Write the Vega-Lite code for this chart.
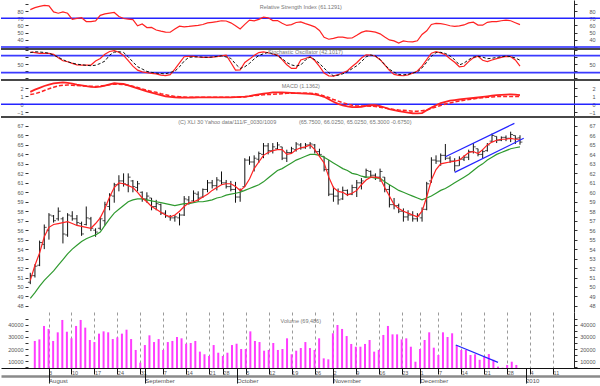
{
"$schema": "https://vega.github.io/schema/vega-lite/v6.json",
"padding": 0,
"background": "white",
"spacing": 0,
"bounds": "flush",
"config": {
  "view": {"stroke": null},
  "axis": {"labelFont": "Liberation Sans", "labelFontSize": 5.5, "labelColor": "#555", "tickColor": "#333", "tickWidth": 1, "domainColor": "#222", "labelOverlap": false, "labelFlush": false, "labelBound": false},
  "text": {"font": "Liberation Sans"}
},
"datasets": {
  "d": [
{"i":0,"o":50.5,"h":51.5,"l":50.3,"c":51.2,"v":26700,"r":50.7,"g":48.8,"rsi":82,"k":93,"d":91,"m":1.55,"s":1.22},
{"i":1,"o":51.2,"h":52.4,"l":51.0,"c":52.2,"v":28000,"r":52.3,"g":49.4,"rsi":84.7,"k":91,"d":94,"m":1.83,"s":1.32},
{"i":2,"o":52.3,"h":54.9,"l":52.2,"c":54.7,"v":39200,"r":53.6,"g":50.1,"rsi":86.5,"k":88,"d":93,"m":2.06,"s":1.5},
{"i":3,"o":54.5,"h":56.6,"l":54.0,"c":56.3,"v":36700,"r":55.3,"g":50.7,"rsi":88,"k":88,"d":91.5,"m":2.29,"s":1.72},
{"i":4,"o":56.0,"h":57.8,"l":55.0,"c":57.6,"v":26700,"r":56.3,"g":51.2,"rsi":87.2,"k":88,"d":88.7,"m":2.46,"s":1.94},
{"i":5,"o":57.5,"h":57.6,"l":56.8,"c":57.0,"v":33900,"r":56.6,"g":51.7,"rsi":78.8,"k":85,"d":82,"m":2.61,"s":2.13},
{"i":6,"o":57.2,"h":58.4,"l":57.0,"c":58.0,"v":44200,"r":56.7,"g":52.3,"rsi":77,"k":73,"d":75,"m":2.68,"s":2.3},
{"i":7,"o":57.2,"h":57.4,"l":54.6,"c":55.6,"v":34400,"r":56.8,"g":52.9,"rsi":78.8,"k":62,"d":66,"m":2.74,"s":2.37},
{"i":8,"o":55.5,"h":57.8,"l":55.3,"c":57.6,"v":28900,"r":56.9,"g":53.5,"rsi":76.9,"k":58.8,"d":58.8,"m":2.68,"s":2.42},
{"i":9,"o":57.5,"h":58.0,"l":57.0,"c":57.2,"v":39200,"r":56.7,"g":54.0,"rsi":68.5,"k":53,"d":54,"m":2.58,"s":2.38},
{"i":10,"o":57.2,"h":57.6,"l":56.5,"c":56.8,"v":44200,"r":56.5,"g":54.4,"rsi":69.8,"k":47.5,"d":50,"m":2.46,"s":2.34},
{"i":11,"o":56.7,"h":56.9,"l":55.4,"c":55.6,"v":37800,"r":56.4,"g":54.8,"rsi":70.7,"k":47,"d":48,"m":2.36,"s":2.31},
{"i":12,"o":56.6,"h":58.5,"l":56.5,"c":57.3,"v":27500,"r":56.3,"g":55.1,"rsi":65.4,"k":47,"d":46,"m":2.26,"s":2.29},
{"i":13,"o":57.2,"h":57.4,"l":55.9,"c":56.2,"v":25800,"r":56.2,"g":55.3,"rsi":65.4,"k":47,"d":44.7,"m":2.18,"s":2.26},
{"i":14,"o":56.0,"h":56.2,"l":55.3,"c":55.8,"v":32800,"r":56.7,"g":55.5,"rsi":66.3,"k":61,"d":46.4,"m":2.16,"s":2.22},
{"i":15,"o":56.2,"h":57.4,"l":56.0,"c":57.2,"v":34700,"r":57.3,"g":55.8,"rsi":74,"k":70,"d":52.5,"m":2.22,"s":2.28},
{"i":16,"o":57.0,"h":59.0,"l":56.5,"c":58.7,"v":33900,"r":58.3,"g":56.5,"rsi":76,"k":85,"d":61,"m":2.33,"s":2.36},
{"i":17,"o":58.5,"h":59.9,"l":58.1,"c":59.7,"v":28300,"r":59.5,"g":57.2,"rsi":77.2,"k":95,"d":82,"m":2.48,"s":2.45},
{"i":18,"o":59.6,"h":61.0,"l":58.9,"c":60.8,"v":29700,"r":60.5,"g":57.8,"rsi":78,"k":97.6,"d":92.5,"m":2.63,"s":2.52},
{"i":19,"o":60.8,"h":61.8,"l":60.1,"c":61.2,"v":32800,"r":61.0,"g":58.2,"rsi":72.5,"k":92.5,"d":94,"m":2.59,"s":2.52},
{"i":20,"o":61.2,"h":62.0,"l":60.6,"c":60.9,"v":36100,"r":60.9,"g":58.6,"rsi":69.6,"k":81,"d":91.5,"m":2.54,"s":2.46},
{"i":21,"o":60.8,"h":62.0,"l":60.0,"c":61.6,"v":28300,"r":60.7,"g":59.0,"rsi":68.9,"k":63,"d":76,"m":2.36,"s":2.38},
{"i":22,"o":61.2,"h":61.3,"l":60.0,"c":60.6,"v":19200,"r":60.5,"g":59.2,"rsi":68.2,"k":43,"d":58,"m":2.17,"s":2.25},
{"i":23,"o":60.5,"h":61.2,"l":60.1,"c":60.9,"v":8600,"r":60.0,"g":59.3,"rsi":59.4,"k":29,"d":41.2,"m":2.0,"s":2.12},
{"i":24,"o":60.0,"h":60.1,"l":59.0,"c":59.3,"v":23300,"r":59.4,"g":59.3,"rsi":62,"k":22.7,"d":33,"m":1.8,"s":1.93},
{"i":25,"o":59.3,"h":60.0,"l":58.9,"c":59.6,"v":31400,"r":59.0,"g":59.2,"rsi":57,"k":20,"d":24.5,"m":1.62,"s":1.75},
{"i":26,"o":59.4,"h":59.4,"l":58.1,"c":58.5,"v":25800,"r":58.5,"g":59.1,"rsi":57.2,"k":17.7,"d":21,"m":1.47,"s":1.6},
{"i":27,"o":58.5,"h":59.2,"l":58.1,"c":58.8,"v":28300,"r":58.2,"g":59.0,"rsi":53.6,"k":16,"d":18.4,"m":1.3,"s":1.5},
{"i":28,"o":58.7,"h":58.8,"l":57.6,"c":57.8,"v":19200,"r":57.9,"g":58.9,"rsi":52,"k":11.5,"d":16.8,"m":1.15,"s":1.32},
{"i":29,"o":57.8,"h":58.1,"l":57.3,"c":57.5,"v":25800,"r":57.6,"g":58.8,"rsi":50.6,"k":9.7,"d":15.9,"m":1.0,"s":1.2},
{"i":30,"o":57.4,"h":57.6,"l":57.0,"c":57.3,"v":26700,"r":57.4,"g":58.7,"rsi":50.5,"k":13,"d":21,"m":0.93,"s":1.08},
{"i":31,"o":57.3,"h":57.6,"l":56.9,"c":57.4,"v":30000,"r":57.6,"g":58.6,"rsi":55,"k":33,"d":25,"m":0.87,"s":0.99},
{"i":32,"o":57.3,"h":57.8,"l":56.5,"c":57.6,"v":28900,"r":58.0,"g":58.7,"rsi":59,"k":55,"d":41,"m":0.85,"s":0.94},
{"i":33,"o":57.6,"h":59.6,"l":57.5,"c":59.3,"v":24400,"r":58.5,"g":58.8,"rsi":58,"k":76.5,"d":61,"m":0.84,"s":0.91},
{"i":34,"o":59.2,"h":59.6,"l":58.7,"c":58.9,"v":25000,"r":58.9,"g":58.8,"rsi":58.6,"k":78,"d":74.5,"m":0.84,"s":0.88},
{"i":35,"o":59.1,"h":60.2,"l":59.0,"c":59.9,"v":26700,"r":59.0,"g":58.9,"rsi":59.5,"k":77.5,"d":75.5,"m":0.85,"s":0.875},
{"i":36,"o":59.8,"h":60.1,"l":59.0,"c":59.4,"v":17800,"r":59.2,"g":59.0,"rsi":60,"k":75.4,"d":76,"m":0.87,"s":0.875},
{"i":37,"o":59.5,"h":60.4,"l":59.4,"c":60.3,"v":15600,"r":59.5,"g":59.0,"rsi":61.3,"k":74,"d":75,"m":0.875,"s":0.875},
{"i":38,"o":60.3,"h":61.3,"l":60.0,"c":61.0,"v":14200,"r":59.8,"g":59.1,"rsi":63.5,"k":74,"d":74.3,"m":0.875,"s":0.875},
{"i":39,"o":61.0,"h":61.3,"l":60.4,"c":60.7,"v":23300,"r":60.2,"g":59.2,"rsi":64.3,"k":75,"d":75.5,"m":0.875,"s":0.875},
{"i":40,"o":60.7,"h":61.6,"l":60.2,"c":61.3,"v":16900,"r":60.5,"g":59.4,"rsi":65.2,"k":76.8,"d":77.5,"m":0.875,"s":0.875},
{"i":41,"o":61.2,"h":62.2,"l":60.8,"c":61.0,"v":14200,"r":60.8,"g":59.5,"rsi":66.5,"k":79.5,"d":79.5,"m":0.875,"s":0.875},
{"i":42,"o":61.0,"h":61.3,"l":60.4,"c":60.6,"v":16900,"r":60.9,"g":59.7,"rsi":66.2,"k":81.7,"d":75.5,"m":0.875,"s":0.875},
{"i":43,"o":60.6,"h":61.2,"l":60.1,"c":60.3,"v":23300,"r":60.9,"g":59.8,"rsi":63.6,"k":56,"d":70.6,"m":0.875,"s":0.875},
{"i":44,"o":60.3,"h":61.1,"l":58.9,"c":59.5,"v":24400,"r":60.6,"g":59.9,"rsi":59.7,"k":29,"d":51,"m":0.9,"s":0.875},
{"i":45,"o":59.5,"h":60.4,"l":59.0,"c":60.2,"v":20000,"r":60.2,"g":60.0,"rsi":55,"k":30,"d":35,"m":0.93,"s":0.875},
{"i":46,"o":60.6,"h":63.6,"l":60.6,"c":63.4,"v":20000,"r":60.6,"g":60.2,"rsi":61.5,"k":56,"d":41,"m":0.95,"s":0.92},
{"i":47,"o":63.4,"h":63.8,"l":62.9,"c":63.2,"v":34700,"r":61.4,"g":60.4,"rsi":67.5,"k":68,"d":52.9,"m":1.02,"s":1.0},
{"i":48,"o":63.2,"h":63.9,"l":62.2,"c":63.6,"v":26700,"r":62.5,"g":60.6,"rsi":66.3,"k":81,"d":68.5,"m":1.14,"s":1.07},
{"i":49,"o":63.5,"h":64.3,"l":63.1,"c":64.1,"v":25800,"r":63.2,"g":60.8,"rsi":68.4,"k":91,"d":80.5,"m":1.24,"s":1.14},
{"i":50,"o":64.0,"h":65.2,"l":63.6,"c":64.9,"v":18600,"r":63.9,"g":61.1,"rsi":71.5,"k":93.5,"d":87,"m":1.33,"s":1.19},
{"i":51,"o":64.9,"h":65.2,"l":64.0,"c":64.4,"v":19200,"r":64.2,"g":61.5,"rsi":70.6,"k":90.5,"d":91.5,"m":1.4,"s":1.22},
{"i":52,"o":64.4,"h":65.2,"l":64.1,"c":64.8,"v":25000,"r":64.4,"g":61.9,"rsi":66.8,"k":86,"d":86,"m":1.48,"s":1.25},
{"i":53,"o":64.6,"h":65.3,"l":64.5,"c":65.0,"v":19200,"r":64.5,"g":62.3,"rsi":66.8,"k":82,"d":80,"m":1.49,"s":1.29},
{"i":54,"o":64.8,"h":64.8,"l":63.4,"c":63.6,"v":20000,"r":64.5,"g":62.5,"rsi":63,"k":66,"d":70,"m":1.48,"s":1.33},
{"i":55,"o":63.6,"h":64.5,"l":63.2,"c":64.2,"v":28900,"r":64.0,"g":62.8,"rsi":60,"k":48,"d":56,"m":1.46,"s":1.37},
{"i":56,"o":64.2,"h":64.8,"l":64.1,"c":64.6,"v":15600,"r":64.1,"g":63.1,"rsi":61.2,"k":35.3,"d":47.5,"m":1.43,"s":1.375},
{"i":57,"o":64.5,"h":65.3,"l":64.3,"c":65.1,"v":18600,"r":64.5,"g":63.4,"rsi":64.1,"k":35.5,"d":43.5,"m":1.4,"s":1.375},
{"i":58,"o":65.0,"h":65.2,"l":64.5,"c":64.7,"v":20800,"r":64.7,"g":63.6,"rsi":65,"k":64.7,"d":47,"m":1.375,"s":1.375},
{"i":59,"o":64.7,"h":65.2,"l":64.6,"c":65.0,"v":25800,"r":64.8,"g":63.8,"rsi":62.6,"k":70,"d":65,"m":1.35,"s":1.375},
{"i":60,"o":65.0,"h":65.3,"l":64.6,"c":65.1,"v":20800,"r":65.0,"g":64.0,"rsi":60.5,"k":76.3,"d":75.5,"m":1.31,"s":1.375},
{"i":61,"o":65.0,"h":65.1,"l":64.1,"c":64.3,"v":19200,"r":64.5,"g":64.0,"rsi":58,"k":63,"d":66,"m":1.25,"s":1.36},
{"i":62,"o":64.3,"h":64.6,"l":63.8,"c":64.0,"v":28900,"r":63.8,"g":63.9,"rsi":53,"k":42,"d":53,"m":1.1,"s":1.22},
{"i":63,"o":63.8,"h":63.8,"l":62.2,"c":62.4,"v":12200,"r":63.1,"g":63.7,"rsi":43.5,"k":18.5,"d":36,"m":0.94,"s":1.05},
{"i":64,"o":62.4,"h":63.4,"l":59.6,"c":59.8,"v":11400,"r":61.6,"g":63.4,"rsi":40.8,"k":9,"d":20,"m":0.64,"s":0.85},
{"i":65,"o":59.8,"h":60.6,"l":59.0,"c":59.6,"v":33100,"r":60.5,"g":63.1,"rsi":42,"k":8,"d":9,"m":0.31,"s":0.6},
{"i":66,"o":59.6,"h":60.4,"l":58.7,"c":59.2,"v":40000,"r":60.1,"g":62.8,"rsi":43.6,"k":13,"d":11,"m":0.06,"s":0.4},
{"i":67,"o":59.3,"h":60.6,"l":59.2,"c":60.2,"v":36700,"r":60.0,"g":62.5,"rsi":43.6,"k":20,"d":16,"m":-0.15,"s":0.2},
{"i":68,"o":60.2,"h":60.3,"l":59.6,"c":59.8,"v":30800,"r":59.7,"g":62.3,"rsi":42.3,"k":26.7,"d":23.5,"m":-0.27,"s":0.03},
{"i":69,"o":59.8,"h":60.8,"l":59.7,"c":60.5,"v":24200,"r":59.9,"g":62.0,"rsi":42.5,"k":41.7,"d":34,"m":-0.35,"s":-0.12},
{"i":70,"o":60.5,"h":61.3,"l":59.5,"c":61.0,"v":21900,"r":60.2,"g":61.9,"rsi":46.3,"k":55,"d":44.5,"m":-0.35,"s":-0.21},
{"i":71,"o":61.0,"h":61.5,"l":60.3,"c":61.2,"v":21900,"r":60.8,"g":61.7,"rsi":50.3,"k":72,"d":59,"m":-0.31,"s":-0.21},
{"i":72,"o":61.6,"h":62.5,"l":61.5,"c":62.3,"v":24200,"r":61.3,"g":61.6,"rsi":52.4,"k":83,"d":76,"m":-0.2,"s":-0.21},
{"i":73,"o":62.2,"h":62.3,"l":61.5,"c":61.8,"v":27500,"r":61.6,"g":61.6,"rsi":51.6,"k":82.4,"d":82.4,"m":-0.12,"s":-0.24},
{"i":74,"o":61.8,"h":62.0,"l":61.3,"c":61.6,"v":17800,"r":61.6,"g":61.5,"rsi":50.6,"k":78,"d":79,"m":-0.1,"s":-0.28},
{"i":75,"o":61.6,"h":62.5,"l":61.1,"c":62.2,"v":19200,"r":61.5,"g":61.5,"rsi":48.3,"k":66,"d":67,"m":-0.23,"s":-0.38},
{"i":76,"o":61.6,"h":61.6,"l":60.0,"c":60.3,"v":31700,"r":60.5,"g":61.1,"rsi":43.8,"k":48,"d":48.5,"m":-0.4,"s":-0.47},
{"i":77,"o":60.3,"h":60.8,"l":58.4,"c":58.7,"v":39200,"r":59.6,"g":60.8,"rsi":39.8,"k":28,"d":32,"m":-0.6,"s":-0.56},
{"i":78,"o":58.7,"h":59.4,"l":58.2,"c":58.6,"v":32200,"r":58.7,"g":60.5,"rsi":38.5,"k":14,"d":22,"m":-0.73,"s":-0.66},
{"i":79,"o":58.6,"h":58.8,"l":57.8,"c":58.0,"v":32200,"r":58.3,"g":60.2,"rsi":35.5,"k":10.6,"d":13.5,"m":-0.85,"s":-0.72},
{"i":80,"o":58.0,"h":58.3,"l":56.9,"c":57.4,"v":28000,"r":58.0,"g":60.0,"rsi":38.5,"k":9.2,"d":12.5,"m":-0.94,"s":-0.75},
{"i":81,"o":57.4,"h":58.1,"l":57.0,"c":57.6,"v":28900,"r":57.8,"g":59.8,"rsi":37.3,"k":12.5,"d":14.5,"m":-1.04,"s":-0.8},
{"i":82,"o":57.6,"h":58.0,"l":56.9,"c":57.2,"v":21900,"r":57.6,"g":59.6,"rsi":37.1,"k":18.3,"d":19,"m":-1.12,"s":-0.86},
{"i":83,"o":57.2,"h":57.8,"l":56.9,"c":57.5,"v":9400,"r":57.4,"g":59.4,"rsi":38.7,"k":26,"d":22.5,"m":-1.125,"s":-0.86},
{"i":84,"o":57.3,"h":58.4,"l":56.9,"c":58.2,"v":20000,"r":58.0,"g":59.2,"rsi":47.5,"k":43,"d":37,"m":-1.1,"s":-0.8},
{"i":85,"o":58.2,"h":61.1,"l":58.1,"c":60.9,"v":27500,"r":59.5,"g":59.4,"rsi":52.5,"k":66,"d":57,"m":-0.75,"s":-0.72},
{"i":86,"o":61.2,"h":63.7,"l":61.0,"c":63.4,"v":33900,"r":61.3,"g":59.6,"rsi":61.4,"k":89,"d":78,"m":-0.41,"s":-0.52},
{"i":87,"o":63.4,"h":63.9,"l":63.0,"c":63.3,"v":21100,"r":62.4,"g":59.9,"rsi":62.8,"k":94,"d":91,"m":-0.12,"s":-0.33},
{"i":88,"o":63.3,"h":64.1,"l":62.8,"c":63.9,"v":15000,"r":63.0,"g":60.2,"rsi":62.6,"k":90,"d":92,"m":0.14,"s":-0.15},
{"i":89,"o":63.9,"h":65.1,"l":63.4,"c":63.6,"v":33900,"r":63.1,"g":60.4,"rsi":61.3,"k":83.5,"d":88,"m":0.3,"s":0.03},
{"i":90,"o":63.6,"h":63.8,"l":63.1,"c":63.3,"v":30000,"r":63.2,"g":60.7,"rsi":59.6,"k":69,"d":79,"m":0.45,"s":0.15},
{"i":91,"o":63.3,"h":63.6,"l":62.2,"c":62.8,"v":33100,"r":63.3,"g":61.0,"rsi":58.8,"k":57,"d":66,"m":0.52,"s":0.28},
{"i":92,"o":62.8,"h":63.8,"l":62.8,"c":63.5,"v":23300,"r":63.4,"g":61.3,"rsi":59.3,"k":41,"d":47.5,"m":0.6,"s":0.4},
{"i":93,"o":63.5,"h":63.9,"l":63.3,"c":63.7,"v":19200,"r":63.8,"g":61.6,"rsi":60.7,"k":42.6,"d":54,"m":0.67,"s":0.5},
{"i":94,"o":63.7,"h":64.5,"l":63.4,"c":64.3,"v":19200,"r":64.2,"g":61.9,"rsi":63.5,"k":59,"d":66,"m":0.73,"s":0.6},
{"i":95,"o":64.3,"h":65.2,"l":64.1,"c":64.8,"v":15000,"r":64.3,"g":62.3,"rsi":64.6,"k":72.6,"d":75,"m":0.79,"s":0.66},
{"i":96,"o":64.6,"h":64.6,"l":63.8,"c":64.0,"v":15600,"r":64.1,"g":62.7,"rsi":60.5,"k":78,"d":78,"m":0.85,"s":0.76},
{"i":97,"o":64.0,"h":64.5,"l":63.6,"c":64.3,"v":11000,"r":64.5,"g":63.0,"rsi":60.3,"k":64,"d":75,"m":0.92,"s":0.82},
{"i":98,"o":64.4,"h":65.2,"l":64.3,"c":65.0,"v":13600,"r":65.0,"g":63.4,"rsi":64.3,"k":59.5,"d":69.5,"m":1.0,"s":0.875},
{"i":99,"o":65.4,"h":66.2,"l":65.3,"c":66.0,"v":15800,"r":65.3,"g":63.7,"rsi":65.4,"k":64.8,"d":71,"m":1.09,"s":0.92},
{"i":100,"o":65.9,"h":65.9,"l":65.2,"c":65.5,"v":11000,"r":65.5,"g":64.0,"rsi":65.4,"k":69.5,"d":74,"m":1.14,"s":0.96},
{"i":101,"o":65.5,"h":65.9,"l":65.4,"c":65.8,"v":5300,"r":65.6,"g":64.2,"rsi":66.5,"k":74.3,"d":76.5,"m":1.18,"s":0.96},
{"i":102,"o":65.8,"h":66.0,"l":65.4,"c":65.7,"v":4400,"r":65.6,"g":64.4,"rsi":67.3,"k":77.5,"d":78.5,"m":1.22,"s":0.96},
{"i":103,"o":65.7,"h":66.4,"l":65.3,"c":66.1,"v":6700,"r":65.7,"g":64.6,"rsi":66.5,"k":76.7,"d":77,"m":1.25,"s":0.96},
{"i":104,"o":66.0,"h":66.0,"l":65.1,"c":65.7,"v":9400,"r":65.6,"g":64.7,"rsi":63.8,"k":65,"d":72,"m":1.2,"s":0.96},
{"i":105,"o":65.75,"h":66.025,"l":65.025,"c":65.3,"v":6700,"r":65.6,"g":64.8,"rsi":61.1,"k":43,"d":64,"m":1.14,"s":0.96}
  ],
  "ch": [
    {"t":"up","i":89.0,"p":63.76},{"t":"up","i":103.8,"p":67.28},
    {"t":"lo","i":91.0,"p":62.1},{"t":"lo","i":105.8,"p":65.7}
  ],
  "vt": [{"i":91.8,"v":23300},{"i":101.0,"v":8900}]
},
"vconcat": [
 {
  "width": 600, "height": 49,
  "resolve": {"axis": {"y": "independent"}},
  "layer": [
   {"data": {"values": [{"y": 70}, {"y": 30}]},
    "mark": {"type": "rule", "color": "#2424ff", "strokeWidth": 1.5},
    "encoding": {"y": {"field": "y", "type": "quantitative", "scale": {"domain": [27.2, 95.4], "nice": false, "zero": false},
      "axis": {"orient": "right", "offset": -27, "title": null, "values": [30,40,50,60,70,80,90], "labelExpr": "datum.value >= 40 && datum.value <= 80 ? datum.label : ''", "tickSize": 3, "labelPadding": 18, "labelAlign": "right", "domain": true, "grid": false}}}},
   {"data": {"name": "d"},
    "mark": {"type": "line", "color": "#ff2222", "strokeWidth": 1.2},
    "encoding": {
      "x": {"field": "i", "type": "quantitative", "scale": {"domain": [-6.28, 122.37], "nice": false, "zero": false},
        "axis": {"title": null, "values": [3,8,13,18,23,28,33,38,41,46,51,56,61,65,70,75,80,84,88,93,98,103,108,113], "grid": true, "gridDash": [3,3], "gridColor": "#9a9a9a", "labels": false, "ticks": false, "domain": false}},
      "y": {"field": "rsi", "type": "quantitative", "scale": {"domain": [27.2, 95.4], "nice": false, "zero": false},
        "axis": {"orient": "left", "offset": -27, "title": null, "values": [30,40,50,60,70,80,90], "labelExpr": "datum.value >= 40 && datum.value <= 80 ? datum.label : ''", "tickSize": 3, "labelPadding": 2, "domain": false, "grid": false}}}},
   {"data": {"values": [{}]},
    "mark": {"type": "text", "fontSize": 5.5, "color": "#777"},
    "encoding": {"x": {"datum": 58, "type": "quantitative", "axis": null}, "y": {"datum": 86, "type": "quantitative", "axis": null}, "text": {"value": "Relative Strength Index (61.1291)"}}},
   {"data": {"values": [{}]},
    "mark": {"type": "rule", "color": "#474747", "strokeWidth": 2},
    "encoding": {"y": {"datum": 27.2, "type": "quantitative", "axis": null}}}
  ]
 },
 {
  "width": 600, "height": 31,
  "resolve": {"axis": {"y": "independent"}},
  "layer": [
   {"data": {"values": [{"y": 80}, {"y": 20}]},
    "mark": {"type": "rule", "color": "#3a3aff", "strokeWidth": 1.8},
    "encoding": {"y": {"field": "y", "type": "quantitative", "scale": {"domain": [-5.8, 103.7], "nice": false, "zero": false},
      "axis": {"orient": "right", "offset": -27, "title": null, "values": [0,25,50,75,100], "labelExpr": "datum.value == 50 ? datum.label : ''", "tickSize": 3, "labelPadding": 18, "labelAlign": "right", "domain": true, "grid": false}}}},
   {"data": {"name": "d"},
    "mark": {"type": "line", "color": "#ff2222", "strokeWidth": 1.2},
    "encoding": {
      "x": {"field": "i", "type": "quantitative", "scale": {"domain": [-6.28, 122.37], "nice": false, "zero": false},
        "axis": {"title": null, "values": [3,8,13,18,23,28,33,38,41,46,51,56,61,65,70,75,80,84,88,93,98,103,108,113], "grid": true, "gridDash": [3,3], "gridColor": "#9a9a9a", "labels": false, "ticks": false, "domain": false}},
      "y": {"field": "k", "type": "quantitative", "scale": {"domain": [-5.8, 103.7], "nice": false, "zero": false},
        "axis": {"orient": "left", "offset": -27, "title": null, "values": [0,25,50,75,100], "labelExpr": "datum.value == 50 ? datum.label : ''", "tickSize": 3, "labelPadding": 2, "domain": false, "grid": false}}}},
   {"data": {"name": "d"},
    "mark": {"type": "line", "color": "#111111", "strokeWidth": 1, "strokeDash": [3, 2]},
    "encoding": {"x": {"field": "i", "type": "quantitative", "axis": null}, "y": {"field": "d", "type": "quantitative", "axis": null}}},
   {"data": {"values": [{}]},
    "mark": {"type": "text", "fontSize": 5.5, "color": "#777"},
    "encoding": {"x": {"datum": 59, "type": "quantitative", "axis": null}, "y": {"datum": 92, "type": "quantitative", "axis": null}, "text": {"value": "Stochastic Oscillator (42.1017)"}}},
   {"data": {"values": [{}]},
    "mark": {"type": "rule", "color": "#474747", "strokeWidth": 2},
    "encoding": {"y": {"datum": -5.8, "type": "quantitative", "axis": null}}}
  ]
 },
 {
  "width": 600, "height": 37,
  "resolve": {"axis": {"y": "independent"}},
  "layer": [
   {"data": {"values": [{"y": 0}]},
    "mark": {"type": "rule", "color": "#2424ff", "strokeWidth": 1.5},
    "encoding": {"y": {"field": "y", "type": "quantitative", "scale": {"domain": [-1.59, 3.04], "nice": false, "zero": false},
      "axis": {"orient": "right", "offset": -27, "title": null, "values": [-1,0,1,2], "tickSize": 3, "labelPadding": 18, "labelAlign": "right", "domain": true, "grid": false}}}},
   {"data": {"name": "d"},
    "mark": {"type": "line", "color": "#ff2222", "strokeWidth": 1.8},
    "encoding": {
      "x": {"field": "i", "type": "quantitative", "scale": {"domain": [-6.28, 122.37], "nice": false, "zero": false},
        "axis": {"title": null, "values": [3,8,13,18,23,28,33,38,41,46,51,56,61,65,70,75,80,84,88,93,98,103,108,113], "grid": true, "gridDash": [3,3], "gridColor": "#9a9a9a", "labels": false, "ticks": false, "domain": false}},
      "y": {"field": "m", "type": "quantitative", "scale": {"domain": [-1.59, 3.04], "nice": false, "zero": false},
        "axis": {"orient": "left", "offset": -27, "title": null, "values": [-1,0,1,2], "tickSize": 3, "labelPadding": 2, "domain": false, "grid": false}}}},
   {"data": {"name": "d"},
    "mark": {"type": "line", "color": "#ff2222", "strokeWidth": 1.5, "strokeDash": [4, 2]},
    "encoding": {"x": {"field": "i", "type": "quantitative", "axis": null}, "y": {"field": "s", "type": "quantitative", "axis": null}}},
   {"data": {"values": [{}]},
    "mark": {"type": "text", "fontSize": 5.5, "color": "#777"},
    "encoding": {"x": {"datum": 58, "type": "quantitative", "axis": null}, "y": {"datum": 2.25, "type": "quantitative", "axis": null}, "text": {"value": "MACD (1.1362)"}}},
   {"data": {"values": [{}]},
    "mark": {"type": "rule", "color": "#474747", "strokeWidth": 2},
    "encoding": {"y": {"datum": -1.59, "type": "quantitative", "axis": null}}}
  ]
 },
 {
  "width": 600, "height": 195,
  "resolve": {"axis": {"y": "independent"}},
  "layer": [
   {"data": {"name": "d"},
    "mark": {"type": "rule", "color": "#111111", "strokeWidth": 1},
    "encoding": {
      "x": {"field": "i", "type": "quantitative", "scale": {"domain": [-6.28, 122.37], "nice": false, "zero": false},
        "axis": {"title": null, "values": [3,8,13,18,23,28,33,38,41,46,51,56,61,65,70,75,80,84,88,93,98,103,108,113], "grid": true, "gridDash": [3,3], "gridColor": "#9a9a9a", "labels": false, "ticks": false, "domain": false}},
      "y": {"field": "l", "type": "quantitative", "scale": {"domain": [47.36, 67.95], "nice": false, "zero": false},
        "axis": {"orient": "left", "offset": -27, "title": null, "values": [48,49,50,51,52,53,54,55,56,57,58,59,60,61,62,63,64,65,66,67], "tickSize": 3, "labelPadding": 2, "domain": false, "grid": false}},
      "y2": {"field": "h"}}},
   {"data": {"name": "d"},
    "mark": {"type": "tick", "orient": "horizontal", "size": 2.4, "thickness": 1, "xOffset": -1.2, "color": "#111111"},
    "encoding": {"x": {"field": "i", "type": "quantitative", "axis": null}, "y": {"field": "o", "type": "quantitative", "axis": null}}},
   {"data": {"name": "d"},
    "mark": {"type": "tick", "orient": "horizontal", "size": 2.4, "thickness": 1, "xOffset": 1.2, "color": "#111111"},
    "encoding": {"x": {"field": "i", "type": "quantitative", "axis": null}, "y": {"field": "c", "type": "quantitative", "axis": null}}},
   {"data": {"name": "d"},
    "mark": {"type": "line", "color": "#2f9a2f", "strokeWidth": 1.2},
    "encoding": {"x": {"field": "i", "type": "quantitative", "axis": null}, "y": {"field": "g", "type": "quantitative", "axis": null}}},
   {"data": {"name": "d"},
    "mark": {"type": "line", "color": "#ff2222", "strokeWidth": 1.2},
    "encoding": {"x": {"field": "i", "type": "quantitative", "axis": null},
      "y": {"field": "r", "type": "quantitative", "scale": {"domain": [47.36, 67.95], "nice": false, "zero": false},
        "axis": {"orient": "right", "offset": -27, "title": null, "values": [48,49,50,51,52,53,54,55,56,57,58,59,60,61,62,63,64,65,66,67], "tickSize": 3, "labelPadding": 18, "labelAlign": "right", "domain": true, "grid": false}}}},
   {"data": {"name": "ch"},
    "mark": {"type": "line", "color": "#2424ff", "strokeWidth": 1.2},
    "encoding": {"x": {"field": "i", "type": "quantitative", "axis": null}, "y": {"field": "p", "type": "quantitative", "axis": null}, "detail": {"field": "t"}}},
   {"data": {"values": [{}]},
    "mark": {"type": "text", "fontSize": 5.5, "color": "#777", "align": "left"},
    "encoding": {"x": {"datum": 31.7, "type": "quantitative", "axis": null}, "y": {"datum": 67.45, "type": "quantitative", "axis": null}, "text": {"value": "(C) XLI 30 Yahoo data/111/F_0030/1009"}}},
   {"data": {"values": [{}]},
    "mark": {"type": "text", "fontSize": 5.5, "color": "#777", "align": "left"},
    "encoding": {"x": {"datum": 57.6, "type": "quantitative", "axis": null}, "y": {"datum": 67.45, "type": "quantitative", "axis": null}, "text": {"value": "(65.7500, 66.0250, 65.0250, 65.3000 -0.6750)"}}}
  ]
 },
 {
  "width": 600, "height": 56,
  "resolve": {"axis": {"x": "independent", "y": "independent"}},
  "layer": [
   {"data": {"name": "vt"},
    "mark": {"type": "point", "opacity": 0},
    "encoding": {
      "x": {"field": "i", "type": "quantitative", "scale": {"domain": [-6.28, 122.37], "nice": false, "zero": false},
        "axis": {"orient": "bottom", "offset": 8, "title": null, "domain": true, "domainColor": "#8a8a8a", "domainWidth": 2.5, "ticks": false, "labels": false, "grid": false}},
      "y": {"field": "v", "type": "quantitative", "axis": null}}},
   {"data": {"name": "d"},
    "mark": {"type": "bar", "color": "#ff3cff", "width": 2, "clip": true},
    "encoding": {
      "x": {"field": "i", "type": "quantitative", "scale": {"domain": [-6.28, 122.37], "nice": false, "zero": false},
        "axis": {"orient": "bottom", "title": null, "values": [3,8,13,18,23,28,33,38,41,46,51,56,61,65,70,75,80,84,88,93,98,103,108,113],
          "labelExpr": "['3','10','17','24','31','7','14','21','28','5','12','19','26','2','9','16','23','1','7','14','21','28','4','11'][indexof([3,8,13,18,23,28,33,38,41,46,51,56,61,65,70,75,80,84,88,93,98,103,108,113], datum.value)]",
          "grid": true, "gridDash": [3,3], "gridColor": "#9a9a9a", "tickSize": 6, "tickColor": "#111", "domain": true, "domainColor": "#111", "labelAlign": "left", "labelBaseline": "middle", "labelPadding": -2, "labelDx": 2}},
      "y": {"field": "v", "type": "quantitative", "scale": {"domain": [4167, 50833], "nice": false, "zero": false},
        "axis": {"orient": "left", "offset": -27, "title": null, "format": "d", "values": [5000,10000,15000,20000,25000,30000,35000,40000,45000], "labelExpr": "datum.value % 10000 == 0 && datum.value <= 40000 ? datum.label : ''", "tickSize": 3, "labelPadding": 2, "domain": false, "grid": false}}}},
   {"data": {"name": "vt"},
    "mark": {"type": "line", "color": "#2424ff", "strokeWidth": 1.2},
    "encoding": {
      "x": {"field": "i", "type": "quantitative", "scale": {"domain": [-6.28, 122.37], "nice": false, "zero": false},
        "axis": {"orient": "bottom", "title": null, "values": [3,24,44,65,84,107],
          "labelExpr": "['August','September','October','November','December','2010'][indexof([3,24,44,65,84,107], datum.value)]",
          "tickSize": 15, "tickColor": "#111", "domain": false, "grid": false, "labelAlign": "left", "labelBaseline": "middle", "labelPadding": -3, "labelDx": 2, "labelFontSize": 6}},
      "y": {"field": "v", "type": "quantitative", "scale": {"domain": [4167, 50833], "nice": false, "zero": false},
        "axis": {"orient": "right", "offset": -27, "title": null, "format": "d", "values": [5000,10000,15000,20000,25000,30000,35000,40000,45000], "labelExpr": "datum.value % 10000 == 0 && datum.value <= 40000 ? datum.label : ''", "tickSize": 3, "labelPadding": 18, "labelAlign": "right", "domain": true, "grid": false}}}},
   {"data": {"values": [{}]},
    "mark": {"type": "text", "fontSize": 5.5, "color": "#777"},
    "encoding": {"x": {"datum": 58, "type": "quantitative", "axis": null}, "y": {"datum": 43333, "type": "quantitative", "axis": null}, "text": {"value": "Volume (69,486)"}}}
  ]
 }
]
}
